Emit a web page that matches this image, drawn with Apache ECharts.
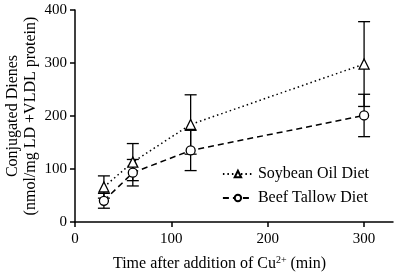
<!DOCTYPE html>
<html>
<head>
<meta charset="utf-8">
<script src="https://cdn.jsdelivr.net/npm/echarts@6/dist/echarts.min.js"></script>
<style>
  html, body { margin: 0; padding: 0; background: #fff; }
  #chart { width: 396px; height: 278px; }
</style>
</head>
<body>
<div id="chart"></div>
<script>
// time points (min)
const times = [30, 60, 120, 300];
// soybean oil diet: mean and error
const soyMean = [66, 113, 184, 298];
const soyErr = [21, 35, 56, 80];
// beef tallow diet: mean and error
const beefMean = [40, 93, 135, 201];
const beefErr = [14, 25, 38, 40];
const xTicks = [0, 100, 200, 300];

const font = 'Liberation Serif';

function errData(mean, err) {
  return times.map((t, i) => [t, mean[i] - err[i], mean[i] + err[i]]);
}

function errSeries(name, mean, err) {
  return {
    name: name + ' err',
    type: 'custom',
    silent: true,
    z: 1,
    data: errData(mean, err),
    renderItem: function (params, api) {
      const x = api.value(0);
      const lo = api.coord([x, api.value(1)]);
      const hi = api.coord([x, api.value(2)]);
      const w = 6;
      const style = { stroke: '#000', lineWidth: 1.3 };
      return {
        type: 'group',
        children: [
          { type: 'line', shape: { x1: lo[0], y1: lo[1], x2: hi[0], y2: hi[1] }, style: style },
          { type: 'line', shape: { x1: lo[0] - w, y1: lo[1], x2: lo[0] + w, y2: lo[1] }, style: style },
          { type: 'line', shape: { x1: hi[0] - w, y1: hi[1], x2: hi[0] + w, y2: hi[1] }, style: style }
        ]
      };
    }
  };
}

const chart = echarts.init(document.getElementById('chart'));
chart.setOption({
  animation: false,
  textStyle: { fontFamily: font },
  grid: { left: 75, right: 3, top: 10, bottom: 56, outerBoundsMode: 'none', containLabel: false },
  legend: {
    right: 22,
    top: 161,
    orient: 'vertical',
    itemWidth: 30,
    itemHeight: 8,
    itemGap: 8,
    textStyle: { fontFamily: font, fontSize: 16, color: '#000' },
    data: ['Soybean Oil Diet', 'Beef Tallow Diet']
  },
  xAxis: {
    type: 'value',
    min: 0,
    max: 330,
    interval: 100,
    name: 'Time after addition of Cu{sup|2+} (min)',
    nameLocation: 'middle',
    nameGap: 33,
    nameMoveOverlap: false,
    nameTextStyle: {
      fontFamily: font, fontSize: 16, color: '#000',
      padding: [0, 29, 0, 0],
      rich: { sup: { fontFamily: font, fontSize: 10, verticalAlign: 'top', padding: [0, 0, 7, 0], color: '#000' } }
    },
    splitLine: { show: false },
    axisLine: { lineStyle: { color: '#000', width: 1.5 } },
    axisTick: { length: 5, lineStyle: { color: '#000', width: 1.5 }, customValues: xTicks },
    axisLabel: { color: '#000', fontSize: 15, margin: 10, customValues: xTicks }
  },
  yAxis: {
    type: 'value',
    min: 0,
    max: 400,
    interval: 100,
    name: 'Conjugated Dienes\n(nmol/mg LD +VLDL protein)',
    nameLocation: 'middle',
    nameGap: 35,
    nameMoveOverlap: false,
    nameTextStyle: { fontFamily: font, fontSize: 16, color: '#000', lineHeight: 18 },
    splitLine: { show: false },
    axisLine: { show: true, lineStyle: { color: '#000', width: 1.5 } },
    axisTick: { show: true, length: 5, lineStyle: { color: '#000', width: 1.5 } },
    axisLabel: { color: '#000', fontSize: 15, margin: 8 }
  },
  series: [
    errSeries('Soybean Oil Diet', soyMean, soyErr),
    errSeries('Beef Tallow Diet', beefMean, beefErr),
    {
      name: 'Soybean Oil Diet',
      type: 'line',
      z: 3,
      data: times.map((t, i) => [t, soyMean[i]]),
      symbol: 'triangle',
      symbolSize: 10,
      showSymbol: true,
      lineStyle: { color: '#000', width: 1.5, type: [1.5, 3] },
      itemStyle: { color: '#fff', borderColor: '#000', borderWidth: 1.3 }
    },
    {
      name: 'Beef Tallow Diet',
      type: 'line',
      z: 3,
      data: times.map((t, i) => [t, beefMean[i]]),
      symbol: 'circle',
      symbolSize: 9,
      showSymbol: true,
      lineStyle: { color: '#000', width: 1.5, type: [6, 4] },
      itemStyle: { color: '#fff', borderColor: '#000', borderWidth: 1.3 }
    }
  ]
});
</script>
</body>
</html>
